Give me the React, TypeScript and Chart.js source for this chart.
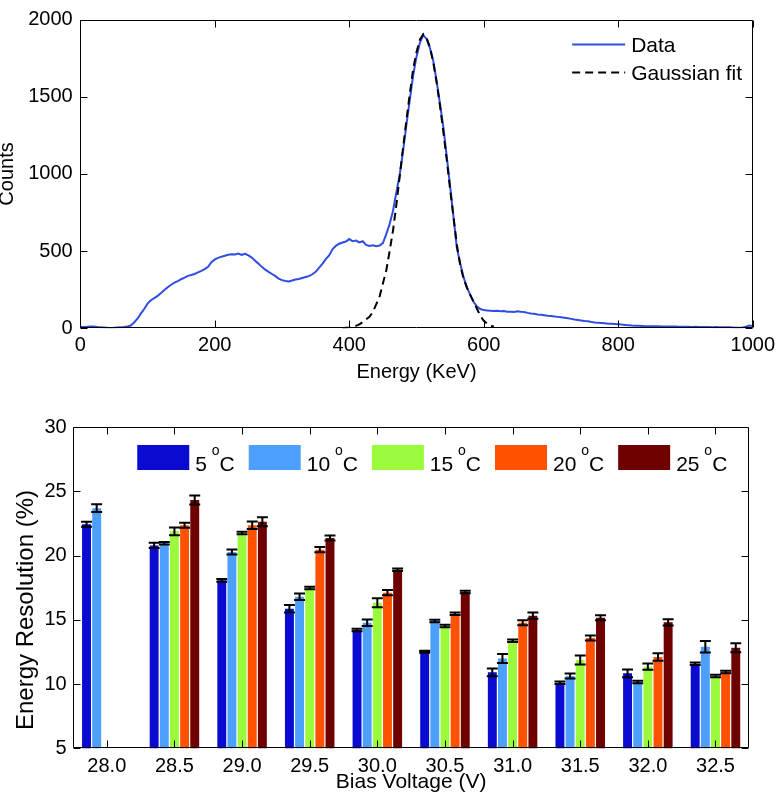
import React, { useEffect, useRef } from 'react';
import { Chart, registerables } from 'chart.js';

Chart.register(...registerables);

const FONT = "'Liberation Sans', Arial, Helvetica, sans-serif";

// ---------- Top chart: energy spectrum ----------
const ENERGY_STEP = 5; // keV between spectrum samples, starting at 0
const SPECTRUM_COUNTS = [
  8, 9, 10, 12, 11, 9, 6, 5, 3, 2,
  3, 5, 6, 8, 12, 18, 38, 62, 95, 125,
  160, 182, 196, 210, 228, 248, 266, 282, 296, 306,
  318, 328, 340, 345, 352, 362, 372, 384, 398, 428,
  446, 456, 464, 470, 476, 480, 478, 484, 476, 482,
  472, 458, 438, 418, 398, 380, 366, 352, 338, 322,
  312, 306, 304, 310, 316, 320, 326, 332, 338, 350,
  366, 392, 418, 448, 472, 512, 534, 548, 556, 562,
  578, 564, 568, 556, 564, 540, 534, 538, 532, 536,
  552, 610, 675, 760, 880, 995, 1150, 1320, 1480, 1640,
  1760, 1850, 1900, 1875, 1815, 1730, 1600, 1450, 1300, 1110,
  920, 720, 520, 420, 330, 265, 215, 170, 140, 125,
  118, 116, 114, 112, 114, 110, 112, 108, 108, 106,
  110, 107, 106, 100, 96, 94, 90, 88, 85, 82,
  80, 77, 74, 71, 68, 65, 61, 57, 54, 50,
  47, 45, 41, 38, 36, 34, 32, 30, 29, 28,
  27, 24, 22, 20, 18, 17, 16, 15, 14, 14,
  13, 14, 13, 12, 12, 11, 12, 11, 10, 10,
  10, 10, 9, 10, 9, 8, 9, 8, 7, 8,
  7, 6, 6, 6, 5, 4, 3, 5, 10, 18,
  14,
];
const FIT_START = 390; // keV of first fit sample
const FIT_COUNTS = [
  0, 3, 6, 10, 16, 26, 40, 58, 75, 105,
  155, 205, 290, 375, 500, 633, 800, 985, 1170, 1350,
  1520, 1680, 1790, 1870, 1905, 1880, 1820, 1720, 1590, 1440,
  1270, 1090, 900, 720, 540, 410, 320, 262, 215, 170,
  125, 80, 48, 30, 18, 10,
];
const ENERGY_RANGE = [0, 1000];
const ENERGY_TICK_STEP = 200;
const COUNT_RANGE = [0, 2000];
const COUNT_TICK_STEP = 500;
const SPECTRUM_LABELS = ['Data', 'Gaussian fit'];

// ---------- Bottom chart: energy resolution ----------
const VOLTAGES = ['28.0', '28.5', '29.0', '29.5', '30.0', '30.5', '31.0', '31.5', '32.0', '32.5'];
const TEMPERATURES = ['5', '10', '15', '20', '25'];
const RES_5C = [22.45, 20.8, 18.08, 15.87, 14.21, 12.52, 10.92, 10.11, 10.84, 11.59];
const RES_10C = [23.7, 20.97, 20.29, 16.8, 14.78, 14.91, 12.0, 10.63, 10.16, 12.91];
const RES_15C = [null, 21.9, 21.77, 17.48, 16.34, 14.52, 13.38, 11.88, 11.36, 10.63];
const RES_20C = [null, 22.37, 22.37, 20.47, 17.12, 15.48, 14.78, 13.59, 12.11, 10.94];
const RES_25C = [null, 24.34, 22.65, 21.38, 18.9, 17.17, 15.33, 15.17, 14.81, 12.84];
const ERR_5C = [0.2, 0.2, 0.1, 0.3, 0.1, 0.08, 0.3, 0.1, 0.3, 0.1];
const ERR_10C = [0.3, 0.1, 0.2, 0.25, 0.25, 0.1, 0.35, 0.2, 0.1, 0.45];
const ERR_15C = [null, 0.3, 0.1, 0.1, 0.35, 0.1, 0.1, 0.35, 0.25, 0.1];
const ERR_20C = [null, 0.2, 0.3, 0.2, 0.2, 0.1, 0.2, 0.2, 0.3, 0.1];
const ERR_25C = [null, 0.35, 0.35, 0.2, 0.1, 0.1, 0.25, 0.2, 0.25, 0.35];
const RES_RANGE = [5, 30];
const RES_TICK_STEP = 5;

const BAR_COLORS = ['#0a0ad0', '#4d9ffc', '#9bfa3c', '#ff5200', '#6e0000'];
const LINE_COLOR = '#2f4de3';

const RES_SERIES = [RES_5C, RES_10C, RES_15C, RES_20C, RES_25C];
const ERR_SERIES = [ERR_5C, ERR_10C, ERR_15C, ERR_20C, ERR_25C];

function drawFrame(chart: any, tickLen: number) {
  const { ctx, chartArea: a, scales } = chart;
  const x = scales.x;
  const y = scales.y;
  const l = Math.round(a.left) + 0.5;
  const r = Math.round(a.right) - 0.5;
  const t = Math.round(a.top) + 0.5;
  const b = Math.round(a.bottom) - 0.5;
  ctx.save();
  ctx.strokeStyle = '#000';
  ctx.lineWidth = 1;
  ctx.beginPath();
  x.ticks.forEach((_: any, i: number) => {
    const px = Math.round(x.getPixelForTick(i)) + 0.5;
    ctx.moveTo(px, b);
    ctx.lineTo(px, b - tickLen);
    ctx.moveTo(px, t);
    ctx.lineTo(px, t + tickLen);
  });
  y.ticks.forEach((_: any, i: number) => {
    const py = Math.round(y.getPixelForTick(i)) + 0.5;
    ctx.moveTo(l, py);
    ctx.lineTo(l + tickLen, py);
    ctx.moveTo(r, py);
    ctx.lineTo(r - tickLen, py);
  });
  ctx.stroke();
  ctx.beginPath();
  ctx.rect(l, t, r - l, b - t);
  ctx.stroke();
  ctx.restore();
}

const spectrumPlugin = {
  id: 'spectrumDecor',
  afterDatasetsDraw(chart: any) {
    drawFrame(chart, 7);
    const { ctx, chartArea: a } = chart;
    ctx.save();
    const x0 = a.right - 180.6;
    const x1 = x0 + 53;
    const rows = [a.top + 25, a.top + 53];
    ctx.font = `21px ${FONT}`;
    ctx.fillStyle = '#000';
    ctx.textBaseline = 'middle';
    ctx.textAlign = 'left';
    SPECTRUM_LABELS.forEach((lab, i) => {
      const yy = rows[i];
      ctx.beginPath();
      ctx.lineWidth = 2;
      ctx.strokeStyle = i === 0 ? LINE_COLOR : '#000';
      ctx.setLineDash(i === 0 ? [] : [8, 5]);
      ctx.moveTo(x0, yy);
      ctx.lineTo(x1, yy);
      ctx.stroke();
      ctx.setLineDash([]);
      ctx.fillText(lab, x1 + 6, yy + 2);
    });
    ctx.restore();
  },
};

const resolutionPlugin = {
  id: 'resolutionDecor',
  afterDatasetsDraw(chart: any) {
    const { ctx, chartArea: a, scales } = chart;
    const y = scales.y;
    // error bars
    ctx.save();
    ctx.strokeStyle = '#000';
    ctx.lineWidth = 2;
    ERR_SERIES.forEach((errs, di) => {
      const meta = chart.getDatasetMeta(di);
      const vals = RES_SERIES[di];
      meta.data.forEach((el: any, i: number) => {
        const v = vals[i];
        const e = errs[i];
        if (v == null || e == null) return;
        const cx = el.x;
        const hw = el.width / 2 + 1;
        const yt = y.getPixelForValue(v + e);
        const yb = y.getPixelForValue(v - e);
        ctx.beginPath();
        ctx.moveTo(cx, yt);
        ctx.lineTo(cx, yb);
        ctx.moveTo(cx - hw, yt);
        ctx.lineTo(cx + hw, yt);
        ctx.moveTo(cx - hw, yb);
        ctx.lineTo(cx + hw, yb);
        ctx.stroke();
      });
    });
    ctx.restore();

    drawFrame(chart, 7);

    // legend
    ctx.save();
    const swW = 52;
    const swH = 25;
    const top = a.top + 17.7;
    const baseline = a.top + 43.2;
    const big = `21px ${FONT}`;
    const small = `14px ${FONT}`;
    const widths = TEMPERATURES.map((t) => {
      ctx.font = big;
      const w1 = ctx.measureText(t + ' ').width;
      const w3 = ctx.measureText('C').width;
      ctx.font = small;
      const w2 = ctx.measureText('o').width;
      return w1 + w2 + w3;
    });
    const gapText = 6;
    const gapItem = 13;
    const total = widths.reduce((s, w) => s + w, 0) + TEMPERATURES.length * (swW + gapText) + (TEMPERATURES.length - 1) * gapItem;
    let x = a.right - 21 - total;
    ctx.fillStyle = '#000';
    ctx.textBaseline = 'alphabetic';
    ctx.textAlign = 'left';
    TEMPERATURES.forEach((t, i) => {
      ctx.fillStyle = BAR_COLORS[i];
      ctx.fillRect(x, top, swW, swH);
      x += swW + gapText;
      ctx.fillStyle = '#000';
      ctx.font = big;
      ctx.fillText(t + ' ', x, baseline);
      let xx = x + ctx.measureText(t + ' ').width - 1;
      ctx.font = small;
      ctx.fillText('o', xx, baseline - 16);
      xx += ctx.measureText('o').width;
      ctx.font = big;
      ctx.fillText('C', xx, baseline);
      x += widths[i] + gapItem;
    });
    ctx.restore();

    // y-axis title
    ctx.save();
    ctx.fillStyle = '#000';
    ctx.font = `24px ${FONT}`;
    ctx.textAlign = 'center';
    ctx.textBaseline = 'middle';
    ctx.translate(26.5, 215);
    ctx.rotate(-Math.PI / 2);
    ctx.fillText('Energy Resolution (%)', 0, 0);
    ctx.restore();
  },
};

export default function App() {
  const topRef = useRef<HTMLCanvasElement>(null);
  const botRef = useRef<HTMLCanvasElement>(null);

  useEffect(() => {
    const spectrum = SPECTRUM_COUNTS.map((c, i) => ({ x: i * ENERGY_STEP, y: c }));
    const fit = FIT_COUNTS.map((c, i) => ({ x: FIT_START + i * ENERGY_STEP, y: c }));

    const tickFont = { family: FONT, size: 20 };

    const top = new Chart(topRef.current!, {
      type: 'line',
      data: {
        datasets: [
          {
            label: SPECTRUM_LABELS[0],
            data: spectrum,
            borderColor: LINE_COLOR,
            borderWidth: 2,
            pointRadius: 0,
            tension: 0,
            fill: false,
            order: 1,
          },
          {
            label: SPECTRUM_LABELS[1],
            data: fit,
            borderColor: '#000',
            borderWidth: 2,
            borderDash: [8, 5],
            pointRadius: 0,
            tension: 0,
            fill: false,
            order: 0,
          },
        ],
      },
      options: {
        responsive: false,
        animation: false,
        events: [],
        layout: { padding: { top: 9, right: 22.7, left: 0, bottom: 0 } },
        plugins: { legend: { display: false }, tooltip: { enabled: false } },
        scales: {
          x: {
            type: 'linear',
            min: ENERGY_RANGE[0],
            max: ENERGY_RANGE[1],
            grid: { display: false, drawTicks: false, tickLength: 0 },
            border: { display: false },
            ticks: {
              stepSize: ENERGY_TICK_STEP,
              font: tickFont,
              color: '#000',
              padding: 5,
              maxRotation: 0,
              autoSkip: false,
              callback: (v: any) => String(v),
            },
            title: {
              display: true,
              text: 'Energy (KeV)',
              font: { family: FONT, size: 20 },
              color: '#000',
              padding: { top: 0, bottom: 6 },
            },
            afterFit: (s: any) => {
              s.height = 61.7;
            },
          },
          y: {
            type: 'linear',
            min: COUNT_RANGE[0],
            max: COUNT_RANGE[1],
            grid: { display: false, drawTicks: false, tickLength: 0 },
            border: { display: false },
            ticks: {
              stepSize: COUNT_TICK_STEP,
              font: tickFont,
              color: '#000',
              padding: 7.6,
              callback: (v: any) => String(v),
            },
            title: {
              display: true,
              text: 'Counts',
              font: { family: FONT, size: 20 },
              color: '#000',
              padding: { top: -4.5, bottom: 0 },
            },
            afterFit: (s: any) => {
              s.width = 80.3;
            },
          },
        },
      },
      plugins: [spectrumPlugin],
    } as any);

    const bottom = new Chart(botRef.current!, {
      type: 'bar',
      data: {
        labels: VOLTAGES,
        datasets: TEMPERATURES.map((t, i) => ({
          label: `${t} oC`,
          data: RES_SERIES[i],
          backgroundColor: BAR_COLORS[i],
          borderWidth: 0,
          categoryPercentage: 0.75,
          barPercentage: 0.88,
        })),
      },
      options: {
        responsive: false,
        animation: false,
        events: [],
        layout: { padding: { top: 32.3, right: 30.7, left: 0, bottom: 0 } },
        plugins: { legend: { display: false }, tooltip: { enabled: false } },
        scales: {
          x: {
            type: 'category',
            offset: true,
            grid: { display: false, drawTicks: false, tickLength: 0 },
            border: { display: false },
            ticks: {
              font: tickFont,
              color: '#000',
              padding: 5.7,
              maxRotation: 0,
              autoSkip: false,
            },
            title: {
              display: true,
              text: 'Bias Voltage (V)',
              font: { family: FONT, size: 21 },
              color: '#000',
              padding: { top: 0, bottom: 7.9 },
            },
            afterFit: (s: any) => {
              s.height = 54.7;
            },
          },
          y: {
            type: 'linear',
            min: RES_RANGE[0],
            max: RES_RANGE[1],
            grid: { display: false, drawTicks: false, tickLength: 0 },
            border: { display: false },
            ticks: {
              stepSize: RES_TICK_STEP,
              font: tickFont,
              color: '#000',
              padding: 6.3,
            },
            title: { display: false },
            afterFit: (s: any) => {
              s.width = 73;
            },
          },
        },
      },
      plugins: [resolutionPlugin],
    } as any);

    return () => {
      top.destroy();
      bottom.destroy();
    };
  }, []);

  return (
    <div style={{ position: 'fixed', left: 0, top: 0, width: 780, height: 803, background: '#fff' }}>
      <canvas ref={topRef} width={780} height={390} style={{ position: 'absolute', left: 0, top: 0, width: 780, height: 390 }} />
      <canvas ref={botRef} width={780} height={408} style={{ position: 'absolute', left: 0, top: 395, width: 780, height: 408 }} />
    </div>
  );
}
